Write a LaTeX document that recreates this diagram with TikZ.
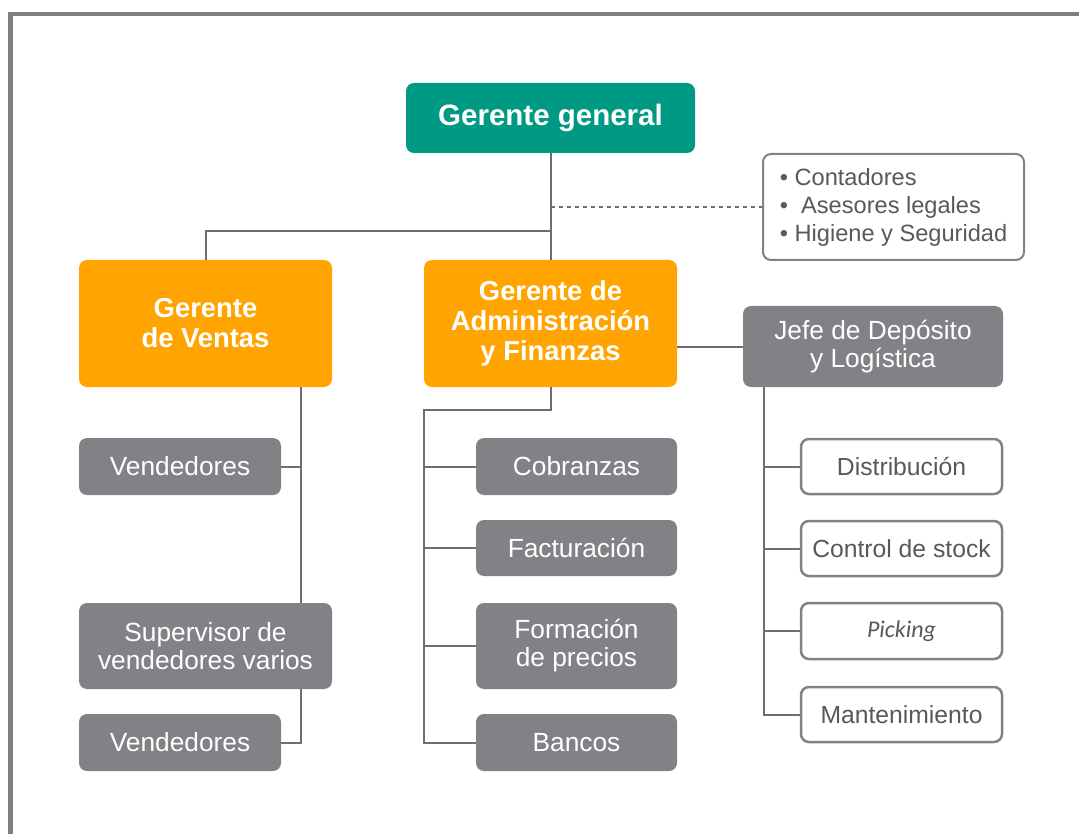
\documentclass[tikz,border=0pt]{standalone}
\usepackage{fontspec}
\setmainfont{Liberation Sans}
\newfontfamily\pickfont{Carlito}
\definecolor{teal1}{HTML}{009A84}
\definecolor{orange1}{HTML}{FFA400}
\definecolor{gray1}{HTML}{808285}
\definecolor{line1}{HTML}{6D6E71}
\definecolor{txt1}{HTML}{58595B}
\definecolor{frame1}{HTML}{808080}
\tikzset{
  box/.style={rectangle, rounded corners=8pt, inner sep=0pt, align=center},
  topbox/.style={box, fill=teal1, text=white, font=\fontsize{29.5}{32}\selectfont\bfseries},
  mgrbox/.style={box, fill=orange1, text=white, font=\fontsize{27.4}{30}\selectfont\bfseries},
  graybox/.style={box, fill=gray1, text=white, font=\fontsize{26.3}{28}\selectfont},
  whitebox/.style={box, fill=white, draw=gray1, line width=2.5pt, text=txt1, font=\fontsize{24.7}{28}\selectfont},
  conn/.style={draw=line1, line width=2pt},
  dashconn/.style={draw=line1, line width=1.6pt, dash pattern=on 4pt off 4pt},
}
\begin{document}
\begin{tikzpicture}[x=1pt,y=-1pt]
\useasboundingbox (0,0) rectangle (1079,834);
\draw[frame1, line width=4.5pt] (10.5,834) -- (10.5,14) -- (1079,14);
% nodes
\node[topbox, minimum width=289pt, minimum height=70pt] (gg) at (550.5,118) {Gerente general};
\node[whitebox, line width=2pt, minimum width=261pt, minimum height=106pt, align=left, font=\fontsize{23.6}{28}\selectfont] (notes) at (893.5,207)
  {\textbullet{} Contadores\\\textbullet\ \ Asesores legales\\\textbullet{} Higiene y Seguridad};
\node[mgrbox, minimum width=253pt, minimum height=127pt] (ventas) at (205.5,323.5) {Gerente\\de Ventas};
\node[mgrbox, minimum width=253pt, minimum height=127pt] (admin) at (550.5,323.5) {Gerente de\\Administración\\y Finanzas};
\node[graybox, minimum width=260pt, minimum height=81pt] (jefe) at (873,346.5) {Jefe de Depósito\\y Logística};
\node[graybox, minimum width=202pt, minimum height=57pt] (vend1) at (180,466.5) {Vendedores};
\node[graybox, minimum width=253pt, minimum height=86pt] (sup) at (205.5,646) {Supervisor de\\vendedores varios};
\node[graybox, minimum width=202pt, minimum height=57pt] (vend2) at (180,742.5) {Vendedores};
\node[graybox, minimum width=201pt, minimum height=57pt] (cob) at (576.5,466.5) {Cobranzas};
\node[graybox, minimum width=201pt, minimum height=56pt] (fact) at (576.5,548) {Facturación};
\node[graybox, minimum width=201pt, minimum height=86pt] (form) at (576.5,646) {Formación\\de precios};
\node[graybox, minimum width=201pt, minimum height=57pt] (bancos) at (576.5,742.5) {Bancos};
\node[whitebox, minimum width=201pt, minimum height=55pt] (dist) at (901.5,466.5) {Distribución};
\node[whitebox, minimum width=201pt, minimum height=55pt] (ctrl) at (901.5,548.5) {Control de stock};
\node[whitebox, minimum width=201pt, minimum height=56pt] (pick) at (901.5,631) {\pickfont\itshape\fontsize{24}{28}\selectfont Picking};
\node[whitebox, minimum width=201pt, minimum height=55pt] (mant) at (901.5,714.5) {Mantenimiento};
% junction coordinates
\coordinate (j1) at (550.5,231);
\coordinate (j2) at (550.5,207);
\coordinate (vt) at (301,387);
\coordinate (at) at (424,410);
\coordinate (jt) at (764,387);
% connectors
\draw[conn] (gg.south) -- (admin.north);
\draw[conn] (ventas.north) |- (j1);
\draw[dashconn] (j2) -- (notes.west);
\draw[conn] (vt) -- (vt |- sup.north);
\draw[conn] (vend1.east) -- (vend1.east -| vt);
\draw[conn] (vt |- sup.south) |- (vend2.east);
\draw[conn] (admin.south) |- (at) |- (bancos.west);
\draw[conn] (at |- cob.west) -- (cob.west);
\draw[conn] (at |- fact.west) -- (fact.west);
\draw[conn] (at |- form.west) -- (form.west);
\draw[conn] (jefe.west) -- (jefe.west -| admin.east);
\draw[conn] (jt) |- (mant.west);
\draw[conn] (jt |- dist.west) -- (dist.west);
\draw[conn] (jt |- ctrl.west) -- (ctrl.west);
\draw[conn] (jt |- pick.west) -- (pick.west);
\end{tikzpicture}
\end{document}
